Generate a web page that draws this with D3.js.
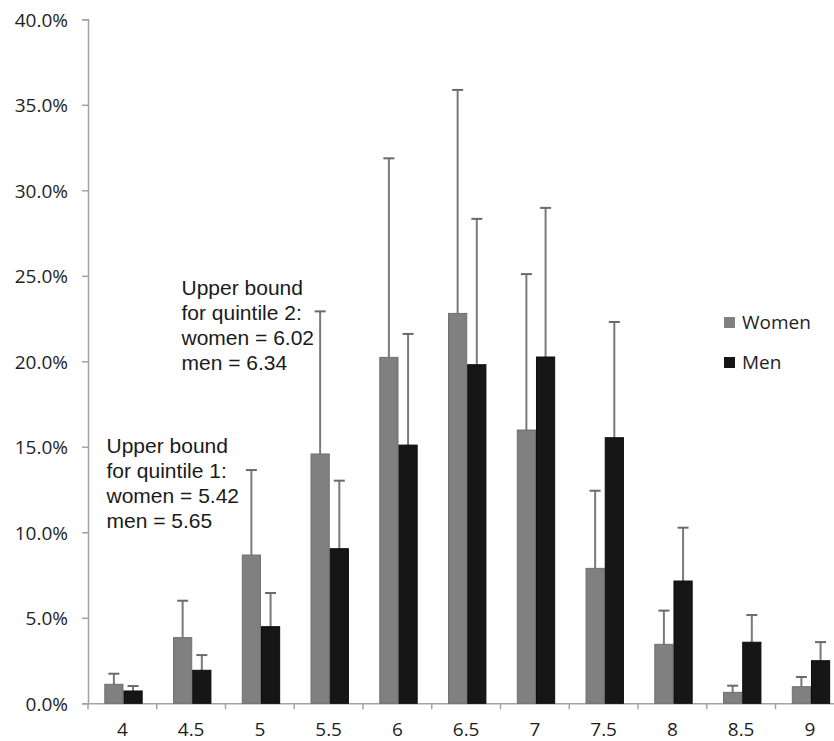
<!DOCTYPE html>
<html>
<head>
<meta charset="utf-8">
<script src="https://cdn.jsdelivr.net/npm/d3@7"></script>
<style>
  html, body { margin: 0; padding: 0; background: #fff; }
  svg { display: block; }
</style>
</head>
<body>
<script>
const categories = ["4", "4.5", "5", "5.5", "6", "6.5", "7", "7.5", "8", "8.5", "9"];
const seriesNames = ["Women", "Men"];
const womenValues = [1.11, 3.84, 8.67, 14.58, 20.23, 22.8, 15.98, 7.89, 3.45, 0.64, 0.97];
const womenUpper  = [1.73, 6.0, 13.64, 22.92, 31.87, 35.87, 25.1, 12.43, 5.42, 1.03, 1.54];
const menValues   = [0.72, 1.93, 4.48, 9.04, 15.1, 19.8, 20.25, 15.53, 7.15, 3.57, 2.49];
const menUpper    = [1.01, 2.82, 6.45, 13.02, 21.6, 28.33, 28.97, 22.3, 10.27, 5.16, 3.58];
const yTicks = [0, 5, 10, 15, 20, 25, 30, 35, 40];
const note1 = ["Upper bound", "for quintile 1:", "women = 5.42", "men = 5.65"];
const note2 = ["Upper bound", "for quintile 2:", "women = 6.02", "men = 6.34"];

(function () {
const W = 834, H = 741;
const svg = d3.select("body").append("svg").attr("width", W).attr("height", H);

const plotLeft = 88, plotBottom = 703.3, plotTop = 19.3;
const bandW = 68.75;
const x = d3.scaleBand().domain(categories).range([plotLeft, plotLeft + bandW * categories.length]).padding(0);
const x1 = d3.scaleBand().domain(seriesNames).range([x.bandwidth() * 0.237, x.bandwidth() * 0.795]).padding(0);
const y = d3.scaleLinear().domain([0, 40]).range([plotBottom, plotTop]);

const colors = { Women: "#808080", Men: "#161616" };
const strokes = { Women: "#6e6e6e", Men: "#0a0a0a" };
const axisColor = "#a3a3a3";
const tickFont = "'Open Sans', sans-serif";

// Y axis
const yAxis = d3.axisLeft(y).tickValues(yTicks).tickSize(6).tickFormat(d => d3.format(".1f")(d) + "%");
const gy = svg.append("g").attr("transform", `translate(${plotLeft},0)`).call(yAxis);
gy.select(".domain").attr("stroke", axisColor).attr("stroke-width", 1.5);
gy.selectAll(".tick line").attr("stroke", axisColor).attr("stroke-width", 1.5);
gy.selectAll(".tick text")
  .attr("x", -20).attr("dy", "0.36em")
  .attr("fill", "#1e1e1e")
  .style("font-family", tickFont).style("font-size", "19px");

// X axis
const xAxis = d3.axisBottom(x).tickSize(0).tickSizeOuter(0);
const gx = svg.append("g").attr("transform", `translate(0,${plotBottom})`).call(xAxis);
gx.select(".domain").attr("stroke", axisColor).attr("stroke-width", 1.5);
gx.selectAll(".tick text")
  .attr("y", 32.5).attr("dy", 0)
  .attr("fill", "#1e1e1e")
  .style("font-family", tickFont).style("font-size", "19px");
// category boundary ticks
svg.append("g").selectAll("line")
  .data(categories.concat(["_end"]))
  .join("line")
  .attr("x1", (d, i) => x.range()[0] + i * x.step())
  .attr("x2", (d, i) => x.range()[0] + i * x.step())
  .attr("y1", plotBottom).attr("y2", plotBottom + 6)
  .attr("stroke", axisColor).attr("stroke-width", 1.5);

// data rows
const rows = categories.map((c, i) => ({
  cat: c,
  vals: [
    { s: "Women", v: womenValues[i], u: womenUpper[i] },
    { s: "Men", v: menValues[i], u: menUpper[i] }
  ]
}));

const groups = svg.append("g").selectAll("g")
  .data(rows).join("g")
  .attr("transform", d => `translate(${x(d.cat)},0)`);

// error bars (drawn first, bar covers lower part)
groups.selectAll("g.err")
  .data(d => d.vals).join("g").attr("class", "err")
  .each(function(d) {
    const g = d3.select(this);
    const cx = x1(d.s) + x1.bandwidth() / 2;
    g.append("line").attr("x1", cx).attr("x2", cx)
      .attr("y1", y(d.v)).attr("y2", y(d.u))
      .attr("stroke", "#7a7a7a").attr("stroke-width", 2);
    g.append("line").attr("x1", cx - 5.5).attr("x2", cx + 5.5)
      .attr("y1", y(d.u)).attr("y2", y(d.u))
      .attr("stroke", "#6a6a6a").attr("stroke-width", 2);
  });

groups.selectAll("rect")
  .data(d => d.vals).join("rect")
  .attr("x", d => x1(d.s) + 0.5)
  .attr("width", x1.bandwidth() - 1)
  .attr("y", d => y(d.v))
  .attr("height", d => y(0) - y(d.v))
  .attr("fill", d => colors[d.s])
  .attr("stroke", d => strokes[d.s])
  .attr("stroke-width", 1);

// Legend
const legend = svg.append("g");
seriesNames.forEach((s, i) => {
  const ly = 317 + i * 40;
  legend.append("rect").attr("x", 724).attr("y", ly).attr("width", 11).attr("height", 11)
    .attr("fill", colors[s]);
  legend.append("text").attr("x", 742).attr("y", ly + 11.5)
    .attr("fill", "#1e1e1e")
    .style("font-family", tickFont).style("font-size", "19px")
    .text(s);
});

// Annotations
function note(lines, x0, y0) {
  const t = svg.append("text")
    .attr("fill", "#1a1a1a")
    .style("font-family", "'Liberation Sans', Arial, sans-serif")
    .style("font-size", "21px");
  lines.forEach((l, i) => {
    t.append("tspan").attr("x", x0).attr("y", y0 + i * 25).text(l);
  });
}
note(note2, 181.5, 295);
note(note1, 106.5, 453);
})();
</script>
</body>
</html>
